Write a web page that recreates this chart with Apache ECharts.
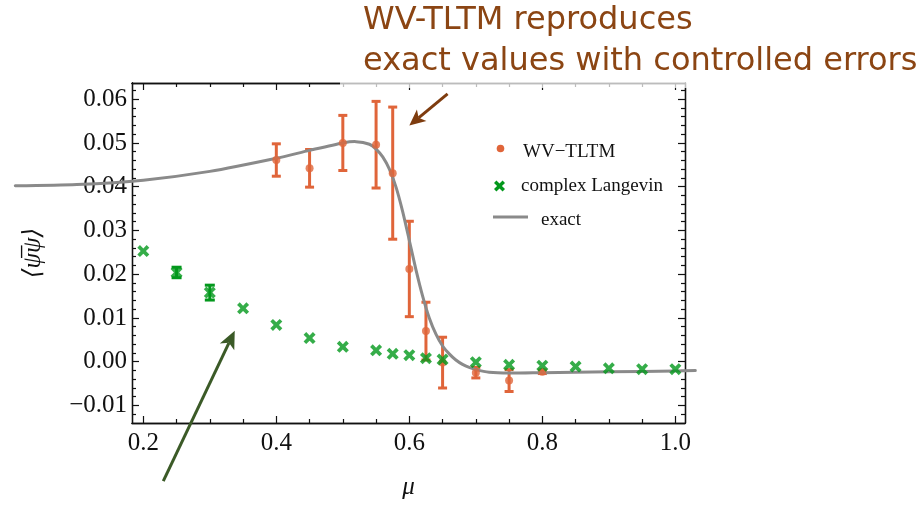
<!DOCTYPE html>
<html>
<head>
<meta charset="utf-8">
<script src="https://cdn.jsdelivr.net/npm/echarts@6/dist/echarts.min.js"></script>
<style>
  html, body { margin: 0; padding: 0; background: #fff; }
  #chart { width: 922px; height: 505px; }
</style>
</head>
<body>
<div id="chart"></div>
<script>
// WV-TLTM estimates of <psibar psi> with statistical errors
const wvMu  = [0.4, 0.45, 0.5, 0.55, 0.575, 0.6, 0.625, 0.65, 0.7, 0.75, 0.8];
const wvVal = [0.0461, 0.0442, 0.0500, 0.0496, 0.0431, 0.0212, 0.0070, -0.0002, -0.0025, -0.0043, -0.0023];
const wvErr = [0.0037, 0.0043, 0.0063, 0.0099, 0.0151, 0.0109, 0.0066, 0.0058, 0.0012, 0.0025, 0.0004];

// complex Langevin results
const clMu  = [0.2, 0.25, 0.3, 0.35, 0.4, 0.45, 0.5, 0.55, 0.575, 0.6, 0.625, 0.65, 0.7, 0.75, 0.8, 0.85, 0.9, 0.95, 1.0];
const clVal = [0.0253, 0.0204, 0.0158, 0.0122, 0.0084, 0.0054, 0.0034, 0.0026, 0.0018, 0.0015, 0.0008, 0.0005, -0.0001, -0.0007, -0.0009, -0.0011, -0.0015, -0.0017, -0.0017];
const clErr = [0, 0.0012, 0.0017, 0, 0, 0, 0, 0, 0, 0, 0, 0, 0, 0, 0, 0, 0, 0, 0];

// exact curve (drawn past the frame on both sides)
const exactMu  = [0.0075, 0.1, 0.2, 0.3, 0.4, 0.45, 0.5, 0.52, 0.54, 0.55, 0.56, 0.57, 0.58, 0.59, 0.6, 0.61, 0.62, 0.63, 0.64, 0.65, 0.66, 0.67, 0.68, 0.69, 0.7, 0.72, 0.75, 0.8, 0.9, 1.0, 1.03];
const exactVal = [0.0402, 0.0405, 0.0415, 0.0435, 0.0465, 0.0483, 0.0500, 0.0503, 0.0497, 0.0486, 0.0468, 0.0440, 0.0399, 0.0343, 0.0277, 0.0210, 0.0150, 0.0100, 0.0063, 0.0036, 0.0018, 0.0004, -0.0006, -0.0013, -0.0018, -0.0024, -0.0026, -0.0025, -0.0023, -0.0021, -0.0020];

// axis ticks
const xMajor = [0.2, 0.4, 0.6, 0.8, 1.0];
const xMinor = [0.25, 0.3, 0.35, 0.45, 0.5, 0.55, 0.65, 0.7, 0.75, 0.85, 0.9, 0.95];
const yMajor = [-0.01, 0.0, 0.01, 0.02, 0.03, 0.04, 0.05, 0.06];

const X_MIN = 0.183, X_MAX = 1.0145;
const Y_MIN = -0.0140, Y_MAX = 0.0637;

// minor y ticks every 0.002 between the labelled ones
const yMinor = [];
for (let k = -6; k <= 31; k++) {
  if (k % 5 !== 0) yMinor.push(Math.round(k * 2) / 1000);
}

const ORANGE = '#e0653a';
const GREEN = '#03981c';
const GREY = '#8a8a8a';
const SERIF = '"Liberation Serif", "DejaVu Serif", serif';

const fmtY = v => (v < -1e-9 ? '\u2212' + Math.abs(v).toFixed(2) : Math.abs(v).toFixed(2));

function frameAxis(position, ticks, len, withLabels, isX) {
  const ax = {
    type: 'value',
    position: position,
    min: isX ? X_MIN : Y_MIN,
    max: isX ? X_MAX : Y_MAX,
    splitLine: { show: false },
    axisLine: { show: true, onZero: false, lineStyle: { color: '#111', width: 1.3 } },
    axisTick: { show: true, inside: true, length: len, customValues: ticks,
                lineStyle: { color: '#111', width: 1.2 } },
    axisLabel: { show: withLabels, customValues: ticks }
  };
  if (withLabels) {
    ax.axisLabel = {
      show: true, customValues: ticks,
      fontFamily: SERIF, fontSize: 25, color: '#111',
      margin: isX ? 8 : 5,
      formatter: isX ? (v => v.toFixed(1)) : fmtY
    };
  }
  return ax;
}

const xAxes = [
  Object.assign(frameAxis('bottom', xMajor, 7, true, true), {
    name: '\u03bc', nameLocation: 'middle', nameGap: 52,
    nameTextStyle: { fontFamily: SERIF, fontSize: 25, fontStyle: 'italic', color: '#111' }
  }),
  frameAxis('top', xMajor, 7, false, true),
  frameAxis('bottom', xMinor, 4, false, true),
  frameAxis('top', xMinor, 4, false, true)
];
const yAxes = [
  Object.assign(frameAxis('left', yMajor, 7, true, false), {
    name: '\u27e8\u03c8\u0305\u03c8\u27e9', nameLocation: 'middle', nameGap: 86,
    nameTextStyle: { fontFamily: SERIF, fontSize: 25, fontStyle: 'italic', color: '#111' }
  }),
  frameAxis('right', yMajor, 7, false, false),
  frameAxis('left', yMinor, 4, false, false),
  frameAxis('right', yMinor, 4, false, false)
];

function errorBars(color, capHalf, width) {
  return function (params, api) {
    const m = api.value(0), v = api.value(1), e = api.value(2);
    const top = api.coord([m, v + e]);
    const bot = api.coord([m, v - e]);
    const st = { stroke: color, lineWidth: width };
    return {
      type: 'group',
      children: [
        { type: 'line', shape: { x1: top[0], y1: top[1], x2: bot[0], y2: bot[1] }, style: st },
        { type: 'line', shape: { x1: top[0] - capHalf, y1: top[1], x2: top[0] + capHalf, y2: top[1] }, style: st },
        { type: 'line', shape: { x1: bot[0] - capHalf, y1: bot[1], x2: bot[0] + capHalf, y2: bot[1] }, style: st }
      ]
    };
  };
}

// the exact curve is one smooth polyline, emitted once from an in-range item
const exactData = exactMu.map((m, i) => [m, exactVal[i]]);
const exactAnchor = exactMu.indexOf(0.5);
function exactCurve(params, api) {
  if (params.dataIndex !== exactAnchor) return null;
  const pts = exactData.map(d => api.coord(d));
  return {
    type: 'polyline',
    shape: { points: pts, smooth: 0.25 },
    style: { stroke: GREY, lineWidth: 3, fill: null, lineJoin: 'round', lineCap: 'round' }
  };
}

// bold "x" marker outline on a 10x10 box
const CROSS_PTS = [[2.2,0],[5,2.8],[7.8,0],[10,2.2],[7.2,5],[10,7.8],[7.8,10],[5,7.2],[2.2,10],[0,7.8],[2.8,5],[0,2.2]];
const CROSS = 'path://M' + CROSS_PTS.map(p => p.join(',')).join(' L') + ' Z';

const wvData = wvMu.map((m, i) => [m, wvVal[i], wvErr[i]]);
const clData = clMu.map((m, i) => [m, clVal[i], clErr[i]]);
const clErrData = clData.filter(d => d[2] > 0);

const chart = echarts.init(document.getElementById('chart'), null, { renderer: 'canvas' });

const option = {
  animation: false,
  backgroundColor: '#fff',
  grid: { left: 132, right: 237, top: 83, bottom: 81, containLabel: false },
  xAxis: xAxes,
  yAxis: yAxes,
  series: [
    {
      name: 'WV\u2212TLTM errors', type: 'custom', xAxisIndex: 0, yAxisIndex: 0,
      renderItem: errorBars(ORANGE, 4.5, 3), data: wvData, encode: { x: 0, y: 1 }, z: 3, clip: false
    },
    {
      name: 'exact', type: 'custom', xAxisIndex: 0, yAxisIndex: 0,
      renderItem: exactCurve, data: exactData, encode: { x: 0, y: 1 }, clip: false, z: 4
    },
    {
      name: 'WV\u2212TLTM', type: 'scatter', xAxisIndex: 0, yAxisIndex: 0,
      data: wvData.map(d => [d[0], d[1]]), symbol: 'circle', symbolSize: 8,
      itemStyle: { color: ORANGE }, z: 5
    },
    {
      name: 'complex Langevin errors', type: 'custom', xAxisIndex: 0, yAxisIndex: 0,
      renderItem: errorBars(GREEN, 5, 3), data: clErrData, encode: { x: 0, y: 1 }, z: 6, clip: false
    },
    {
      name: 'complex Langevin', type: 'scatter', xAxisIndex: 0, yAxisIndex: 0,
      data: clData.map(d => [d[0], d[1]]), symbol: CROSS, symbolSize: 12,
      itemStyle: { color: GREEN }, z: 7
    }
  ]
};
chart.setOption(option);

// annotations placed from data coordinates
const toPx = (m, v) => chart.convertToPixel({ xAxisIndex: 0, yAxisIndex: 0 }, [m, v]);

function arrow(tail, tip, color, width, headLen, headW) {
  const dx = tip[0] - tail[0], dy = tip[1] - tail[1];
  const L = Math.hypot(dx, dy);
  const ux = dx / L, uy = dy / L, nx = -uy, ny = ux;
  const bx = tip[0] - ux * headLen, by = tip[1] - uy * headLen;
  const notch = [bx + ux * headLen * 0.25, by + uy * headLen * 0.25];
  return [
    { type: 'line', z: 60, shape: { x1: tail[0], y1: tail[1], x2: notch[0], y2: notch[1] },
      style: { stroke: color, lineWidth: width } },
    { type: 'polygon', z: 60,
      shape: { points: [tip, [bx + nx * headW / 2, by + ny * headW / 2], notch, [bx - nx * headW / 2, by - ny * headW / 2]] },
      style: { fill: color } }
  ];
}

const legendCross = CROSS_PTS.map(p => [494 + p[0] * 1.1, 180.5 + p[1] * 1.1]);

const graphics = [
  // white haze behind the headline
  { type: 'rect', z: 50, shape: { x: 340, y: 0, width: 582, height: 88 },
    style: { fill: 'rgba(255,255,255,0.72)' } },
  { type: 'text', z: 61, x: 363, y: 21,
    style: { text: 'WV-TLTM reproduces', fill: '#8b4513', font: '32px "DejaVu Sans"', verticalAlign: 'middle' } },
  { type: 'text', z: 61, x: 363, y: 62,
    style: { text: 'exact values with controlled errors', fill: '#8b4513', font: '32px "DejaVu Sans"', verticalAlign: 'middle' } },

  // legend
  { type: 'circle', z: 40, shape: { cx: 500.5, cy: 148.5, r: 3.8 }, style: { fill: ORANGE } },
  { type: 'text', z: 40, x: 523, y: 152,
    style: { text: 'WV\u2212TLTM', fill: '#111', font: '19px "Liberation Serif"', verticalAlign: 'middle' } },
  { type: 'polygon', z: 40, shape: { points: legendCross }, style: { fill: GREEN } },
  { type: 'text', z: 40, x: 521, y: 186,
    style: { text: 'complex Langevin', fill: '#111', font: '19px "Liberation Serif"', verticalAlign: 'middle' } },
  { type: 'line', z: 40, shape: { x1: 493, y1: 217, x2: 528, y2: 217 }, style: { stroke: GREY, lineWidth: 3 } },
  { type: 'text', z: 40, x: 541, y: 220,
    style: { text: 'exact', fill: '#111', font: '19px "Liberation Serif"', verticalAlign: 'middle' } }
];

graphics.push(...arrow(toPx(0.6575, 0.0612), toPx(0.6, 0.0540), '#7e3c0f', 3, 16, 15));
graphics.push(...arrow(toPx(0.230, -0.0273), toPx(0.3375, 0.0071), '#3b5a27', 3, 18, 16));

chart.setOption({ graphic: graphics });
</script>
</body>
</html>
